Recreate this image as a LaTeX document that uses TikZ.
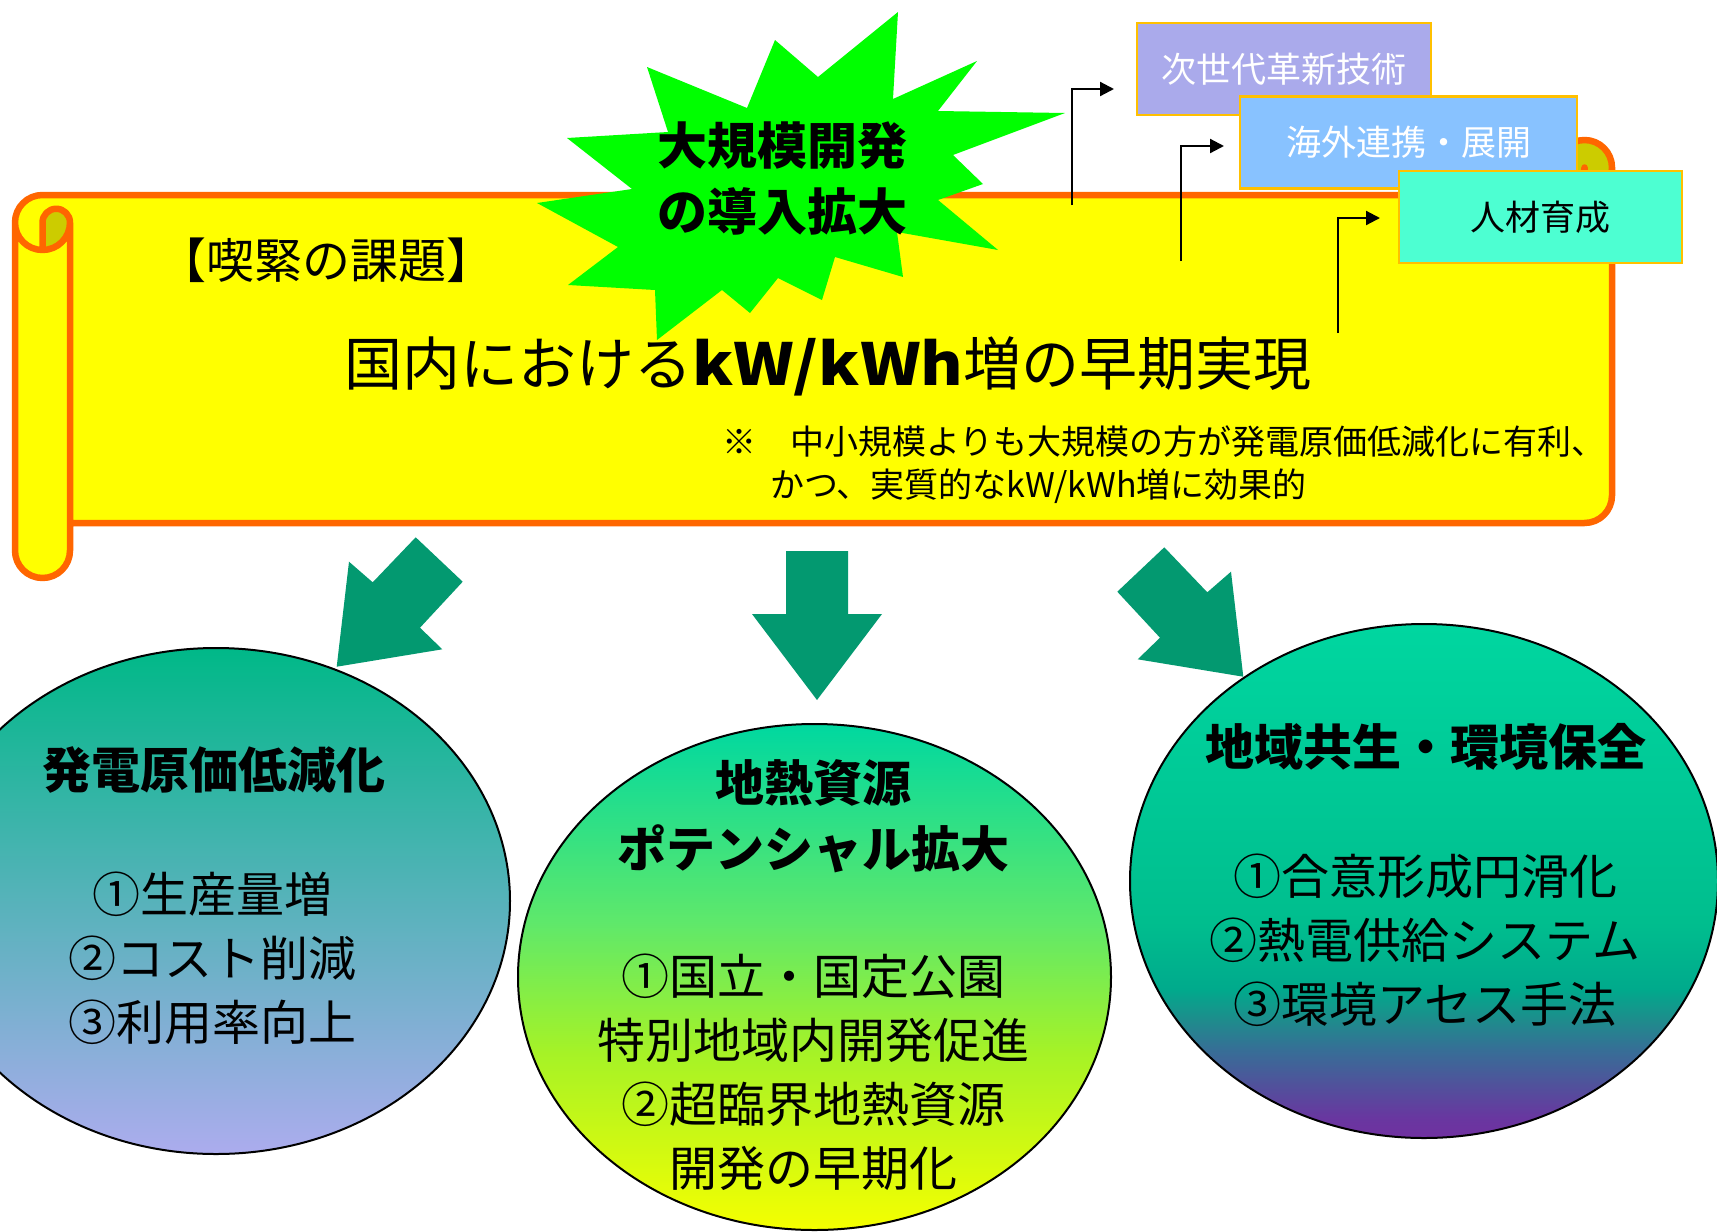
\documentclass[tikz,border=0pt]{standalone}
\usepackage{fontspec}
\setmainfont{Noto Sans CJK JP}
\usetikzlibrary{arrows.meta,shapes.geometric}
\definecolor{scrollfill}{RGB}{255,255,0}
\definecolor{scrollline}{RGB}{255,102,0}
\definecolor{curlfill}{RGB}{204,204,0}
\definecolor{burstgreen}{RGB}{0,255,0}
\definecolor{boxline}{RGB}{255,192,0}
\definecolor{boxa}{RGB}{170,170,235}
\definecolor{boxb}{RGB}{136,194,255}
\definecolor{boxc}{RGB}{77,255,210}
\definecolor{arrowgreen}{RGB}{3,153,112}
\pgfdeclareverticalshading{leftshade}{100bp}{rgb(0bp)=(0.675,0.675,0.933); rgb(25bp)=(0.675,0.675,0.933); rgb(50bp)=(0.34,0.70,0.73); rgb(75bp)=(0,0.722,0.533); rgb(100bp)=(0,0.722,0.533)}
\pgfdeclareverticalshading{midshade}{100bp}{rgb(0bp)=(0.96,1,0); rgb(25bp)=(0.96,1,0); rgb(42.5bp)=(0.65,0.95,0.15); rgb(55.5bp)=(0.37,0.91,0.42); rgb(75bp)=(0,0.847,0.627); rgb(100bp)=(0,0.847,0.627)}
\pgfdeclareverticalshading{rightshade}{100bp}{rgb(0bp)=(0.44,0.19,0.63); rgb(25bp)=(0.44,0.19,0.63); rgb(27bp)=(0.41,0.215,0.627); rgb(33.5bp)=(0.216,0.43,0.59); rgb(36.5bp)=(0.118,0.55,0.55); rgb(39.5bp)=(0,0.667,0.55); rgb(46bp)=(0,0.745,0.557); rgb(75bp)=(0,0.84,0.627); rgb(100bp)=(0,0.84,0.627)}
\tikzset{
  tagbox/.style={draw=boxline, line width=2.5pt, inner sep=0pt, minimum height=92pt, font=\fontsize{35}{40}\selectfont},
  elbow/.style={draw=black, line width=2.2pt, -{Triangle[length=14pt,width=14pt]}},
  bubble/.style={ellipse, draw=black, line width=2pt, inner sep=0pt},
  eltitle/.style={font=\fontsize{49}{66}\selectfont\bfseries, align=center, inner sep=0pt},
  elitem/.style={font=\fontsize{48}{64}\selectfont, align=center, inner sep=0pt},
  notetext/.style={font=\fontsize{34}{40}\selectfont, anchor=west, inner sep=0pt},
}
\begin{document}
\begin{tikzpicture}[x=1pt, y=-1pt]
\useasboundingbox (0,0) rectangle (1717,1232);
\clip (0,0) rectangle (1717,1232);
\fill[white] (0,0) rectangle (1717,1232);

% scroll body
\fill[scrollfill] (1612,167.5) arc[start angle=0, delta angle=90, radius=27.5] -- (1584.5,167.5)
  arc[start angle=0, delta angle=180, radius=13.75] -- (1557,195) -- (42.5,195)
  arc[start angle=270, delta angle=-90, radius=27.5] -- (15,550.5)
  arc[start angle=180, delta angle=-180, radius=27.5] -- (70,523) -- (1584.5,523)
  arc[start angle=90, delta angle=-90, radius=27.5] -- cycle;
\fill[curlfill] (42.5,250) arc[start angle=90, delta angle=-90, radius=27.5]
  arc[start angle=0, delta angle=-180, radius=13.75] -- cycle;
\fill[curlfill] (1584.5,195) arc[start angle=90, delta angle=-270, radius=27.5]
  arc[start angle=180, delta angle=-180, radius=13.75] -- cycle;
\draw[scrollline, line width=6.5pt, line join=round]
  (15,222.5) arc[start angle=180, delta angle=90, radius=27.5] -- (1557,195) -- (1557,167.5)
  arc[start angle=180, delta angle=180, radius=27.5] -- (1612,495.5)
  arc[start angle=0, delta angle=90, radius=27.5] -- (70,523) -- (70,550.5)
  arc[start angle=0, delta angle=180, radius=27.5] -- cycle
  (1557,195) -- (1584.5,195) arc[start angle=90, delta angle=-90, radius=27.5]
  (1584.5,195) -- (1584.5,167.5) arc[start angle=0, delta angle=180, radius=13.75]
  (42.5,250) -- (42.5,222.5) arc[start angle=180, delta angle=180, radius=13.75]
  arc[start angle=0, delta angle=180, radius=27.5]
  (70,222.5) -- (70,523);

% starburst
\fill[burstgreen] (567,138) -- (668,132) -- (647,67) -- (747,108) -- (775,40) -- (818,77)
  -- (898,12) -- (893,99) -- (977,61) -- (938,111) -- (1065,113) -- (953,155) -- (983,184)
  -- (938,200) -- (998,250) -- (897,232) -- (903,277) -- (835,257) -- (822,300) -- (778,278)
  -- (750,313) -- (722,290) -- (657,340) -- (655,290) -- (568,285) -- (618,247) -- (537,203)
  -- (632,189) -- cycle;
\node[font=\fontsize{50}{66}\selectfont\bfseries, align=center, inner sep=0pt] (burst) at (782,178) {大規模開発\\の導入拡大};

% scroll texts
\node[font=\fontsize{48}{54}\selectfont, inner sep=0pt] (kadai) at (326,260) {【喫緊の課題】};
\node[font=\fontsize{58}{64}\selectfont, inner sep=0pt] (title) at (828,366) {国内における{\bfseries\scalebox{1.12}[1]{kW/kWh}}増の早期実現};
\node[notetext] (note1) at (722,442) {※　中小規模よりも大規模の方が発電原価低減化に有利、};
\node[notetext] (note2) at (770,486) {かつ、実質的なkW/kWh増に効果的};

% elbow arrows
\coordinate (a1s) at (1072,205); \coordinate (a1e) at (1114,89);
\coordinate (a2s) at (1181,261); \coordinate (a2e) at (1224,146);
\coordinate (a3s) at (1338,333); \coordinate (a3e) at (1380,218);
\draw[elbow] (a1s) |- (a1e);
\draw[elbow] (a2s) |- (a2e);
\draw[elbow] (a3s) |- (a3e);

% tag boxes
\node[tagbox, fill=boxa, text=white, minimum width=294pt] (b1) at (1284,69) {次世代革新技術};
\node[tagbox, fill=boxb, text=white, minimum width=337pt] (b2) at (1408.5,142.5) {海外連携・展開};
\node[tagbox, fill=boxc, text=black, minimum width=283pt] (b3) at (1540.5,217) {人材育成};

% ellipses
\node[bubble, shading=leftshade, minimum width=588pt, minimum height=506pt] (e1) at (216,901) {};
\node[bubble, shading=midshade, minimum width=593pt, minimum height=506pt] (e2) at (814.5,977) {};
\node[bubble, shading=rightshade, minimum width=588pt, minimum height=514pt] (e3) at (1424,881) {};

% green block arrows
\fill[arrowgreen] (415.7,537.3) -- (462.7,581.7) -- (420,627.7) -- (442.3,649.3) -- (336.7,666.7)
  -- (349,561.7) -- (372.7,582.3) -- cycle;
\fill[arrowgreen] (786,551) -- (848,551) -- (848,614) -- (882,614) -- (817,700) -- (752,614)
  -- (786,614) -- cycle;
\fill[arrowgreen] (1164.3,547.3) -- (1207.3,592.3) -- (1231,571.7) -- (1243.3,676.7)
  -- (1137.7,659.3) -- (1160,637.7) -- (1117.3,591.7) -- cycle;

% ellipse texts
\node[eltitle] (t1) at (214,770) {発電原価低減化};
\node[elitem] (i1) at (212,958) {①生産量増\\②コスト削減\\③利用率向上};
\node[eltitle] (t2) at (813,816.5) {地熱資源\\ポテンシャル拡大};
\node[elitem] (i2) at (813,1072.5) {①国立・国定公園\\特別地域内開発促進\\②超臨界地熱資源\\開発の早期化};
\node[eltitle] (t3) at (1426,747) {地域共生・環境保全};
\node[elitem] (i3) at (1425,940) {①合意形成円滑化\\②熱電供給システム\\③環境アセス手法};
\end{tikzpicture}
\end{document}
